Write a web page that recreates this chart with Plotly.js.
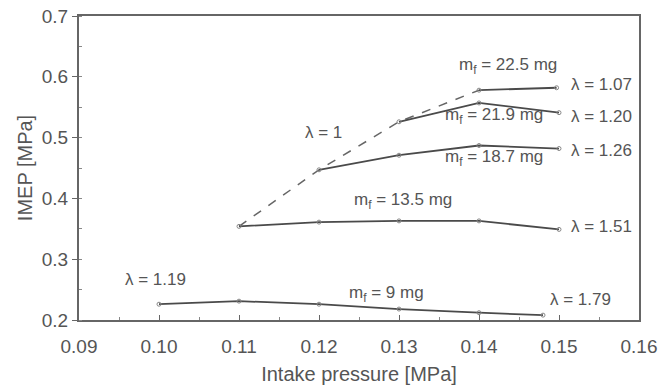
<!DOCTYPE html>
<html><head><meta charset="utf-8">
<script src="https://cdn.plot.ly/plotly-3.0.1.min.js"></script>
<style>html,body{margin:0;padding:0;background:#fff}#c{width:660px;height:392px}</style>
</head><body><div id="c"></div>
<script>
// Data
const x_225 = [0.14, 0.1497];
const y_225 = [0.578, 0.582];
const x_219 = [0.13, 0.14, 0.15];
const y_219 = [0.526, 0.557, 0.541];
const x_187 = [0.12, 0.13, 0.14, 0.15];
const y_187 = [0.447, 0.471, 0.487, 0.482];
const x_135 = [0.11, 0.12, 0.13, 0.14, 0.15];
const y_135 = [0.354, 0.361, 0.363, 0.363, 0.349];
const x_9 = [0.10, 0.11, 0.12, 0.13, 0.14, 0.148];
const y_9 = [0.226, 0.231, 0.226, 0.218, 0.212, 0.208];
const x_lam1 = [0.11, 0.12, 0.13, 0.14];
const y_lam1 = [0.354, 0.447, 0.526, 0.578];
const xTickVals = [0.09, 0.10, 0.11, 0.12, 0.13, 0.14, 0.15, 0.16];
const xTickText = ["0.09", "0.10", "0.11", "0.12", "0.13", "0.14", "0.15", "0.16"];
const yTickVals = [0.2, 0.3, 0.4, 0.5, 0.6, 0.7];
const yTickText = ["0.2", "0.3", "0.4", "0.5", "0.6", "0.7"];

const lineC = '#4a4a4a';
const solid = (x, y) => ({x, y, type: 'scatter', mode: 'lines+markers',
  line: {color: lineC, width: 1.8},
  marker: {symbol: 'circle-open', size: 4, color: '#888', line: {width: 1}},
  showlegend: false, hoverinfo: 'skip'});

const traces = [
  {x: x_lam1, y: y_lam1, type: 'scatter', mode: 'lines',
   line: {color: '#666', width: 1.5, dash: 'dash'}, showlegend: false},
  solid(x_225, y_225), solid(x_219, y_219), solid(x_187, y_187),
  solid(x_135, y_135), solid(x_9, y_9)
];

const FF = 'Liberation Sans, Arial, sans-serif';
const txt = (x, y, text, xanchor) => ({x, y, xref: 'x', yref: 'y', text, showarrow: false,
  xanchor: xanchor || 'center', yanchor: 'middle',
  font: {family: FF, size: 17, color: '#555'}});

const annotations = [
  txt(0.1436, 0.617, 'm<sub>f</sub> = 22.5 mg'),
  txt(0.1512, 0.587, 'λ = 1.07', 'left'),
  txt(0.1419, 0.535, 'm<sub>f</sub> = 21.9 mg'),
  txt(0.1512, 0.535, 'λ = 1.20', 'left'),
  txt(0.1419, 0.467, 'm<sub>f</sub> = 18.7 mg'),
  txt(0.1512, 0.479, 'λ = 1.26', 'left'),
  txt(0.1305, 0.396, 'm<sub>f</sub> = 13.5 mg'),
  txt(0.1512, 0.353, 'λ = 1.51', 'left'),
  txt(0.0995, 0.267, 'λ = 1.19'),
  txt(0.1284, 0.242, 'm<sub>f</sub> = 9 mg'),
  txt(0.1486, 0.234, 'λ = 1.79', 'left'),
  txt(0.1206, 0.509, 'λ = 1')
];

const tickFont = {family: FF, size: 19, color: '#555'};
const titleFont = {family: FF, size: 20, color: '#555'};
const layout = {
  width: 660, height: 392,
  margin: {l: 79, r: 21, t: 16, b: 72},
  paper_bgcolor: '#fff', plot_bgcolor: '#fff',
  xaxis: {range: [0.09, 0.16], tickvals: xTickVals, ticktext: xTickText,
    showgrid: false, zeroline: false, showline: true, mirror: true,
    linecolor: '#666', linewidth: 2, ticks: 'inside', ticklen: 5, tickcolor: '#666',
    minor: {dtick: 0.005, tick0: 0.09, ticks: 'inside', ticklen: 3, tickcolor: '#888', showgrid: false},
    tickfont: tickFont, ticklabelstandoff: 8,
    title: {text: 'Intake pressure [MPa]', font: titleFont, standoff: 11}},
  yaxis: {range: [0.2, 0.7], tickvals: yTickVals, ticktext: yTickText,
    showgrid: false, zeroline: false, showline: true, mirror: true,
    linecolor: '#666', linewidth: 2, ticks: 'outside', ticklen: 5, tickcolor: '#666',
    minor: {dtick: 0.05, tick0: 0.2, ticks: 'inside', ticklen: 3, tickcolor: '#888', showgrid: false},
    tickfont: tickFont,
    title: {text: 'IMEP [MPa]', font: titleFont, standoff: 4}},
  annotations,
  showlegend: false
};
Plotly.newPlot('c', traces, layout, {displayModeBar: false, staticPlot: true});
</script></body></html>
